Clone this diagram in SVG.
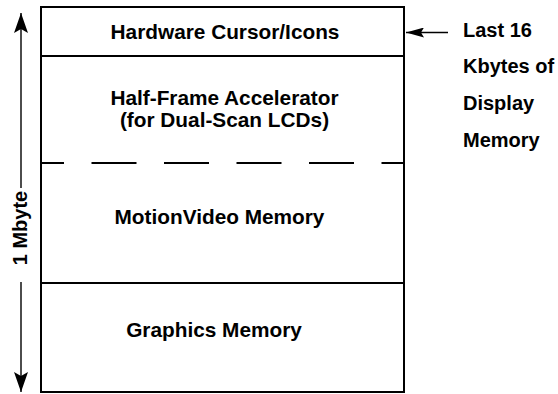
<svg xmlns="http://www.w3.org/2000/svg" width="558" height="394" viewBox="0 0 558 394">
  <style>
    .lbl { font-family: "Liberation Sans", Arial, Helvetica, sans-serif; font-weight: bold; font-size: 20px; fill: #000; }
    .box { font-size: 20.8px; }
    .mid { text-anchor: middle; }
    .edge { stroke: #000; stroke-width: 2; fill: none; }
    .thin { stroke: #000; stroke-width: 1.4; fill: none; }
  </style>
  <defs>
    <marker id="head" viewBox="0 0 20 14" refX="20" refY="7" markerWidth="20" markerHeight="14" markerUnits="userSpaceOnUse" orient="auto">
      <path d="M0,0 L20,7 L0,14 L4,7 Z" fill="#000"/>
    </marker>
    <marker id="headSmall" viewBox="0 0 18 10" refX="18" refY="5" markerWidth="18" markerHeight="10" markerUnits="userSpaceOnUse" orient="auto">
      <path d="M0,0 L18,5 L0,10 L3,5 Z" fill="#000"/>
    </marker>
  </defs>

  <!-- memory map outline -->
  <g id="memory-map">
    <rect class="edge" x="41" y="7" width="363" height="385"/>
  </g>

  <g id="hw-cursor">
    <line class="edge" x1="41" y1="56" x2="404" y2="56"/>
    <text class="lbl box mid" x="225" y="39">Hardware Cursor/Icons</text>
  </g>

  <g id="half-frame">
    <text class="lbl box mid" x="224.5" y="105">Half-Frame Accelerator</text>
    <text class="lbl box mid" x="224.5" y="127">(for Dual-Scan LCDs)</text>
  </g>

  <g id="motion-video">
    <line class="edge" x1="41" y1="163" x2="404" y2="163" stroke-dasharray="45 27.5" stroke-dashoffset="22"/>
    <text class="lbl box mid" x="219.5" y="224">MotionVideo Memory</text>
  </g>

  <g id="graphics">
    <line class="edge" x1="41" y1="283" x2="404" y2="283"/>
    <text class="lbl box mid" x="214" y="337">Graphics Memory</text>
  </g>

  <g id="size-note">
    <text class="lbl" x="463" y="37">Last 16</text>
    <text class="lbl" x="463" y="73">Kbytes of</text>
    <text class="lbl" x="463" y="110">Display</text>
    <text class="lbl" x="463" y="147">Memory</text>
  </g>

  <g id="size-label">
    <text class="lbl mid" transform="translate(27,228) rotate(-90)" x="0" y="0">1 Mbyte</text>
  </g>

  <!-- connectors -->
  <g id="connectors">
    <line class="thin" x1="21" y1="188" x2="21" y2="13" marker-end="url(#head)"/>
    <line class="thin" x1="21" y1="282" x2="21" y2="392" marker-end="url(#head)"/>
    <line class="thin" x1="448" y1="32.5" x2="406" y2="32.5" marker-end="url(#headSmall)"/>
  </g>
</svg>
